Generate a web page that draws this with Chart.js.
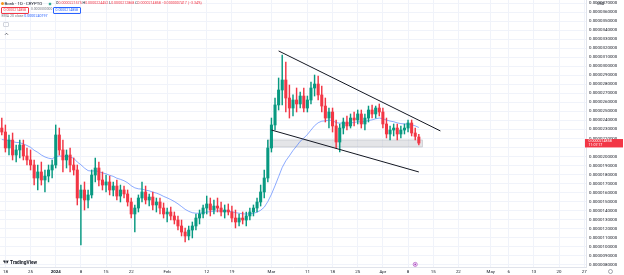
<!DOCTYPE html>
<html>
<head>
<meta charset="utf-8">
<title>Bonk 1D</title>
<script src="https://cdn.jsdelivr.net/npm/chart.js@4.4.1/dist/chart.umd.min.js"></script>
<style>
  html, body { margin: 0; padding: 0; background: #fff; }
  #wrap { position: relative; width: 624px; height: 275px; overflow: hidden; font-family: Roboto, "Noto Sans", sans-serif; color: #131722; }
  #chart { position: absolute; left: 0; top: 0; }
  .ov { position: absolute; white-space: nowrap; line-height: 1; }
  .coin { left: 0.5px; top: 1.8px; width: 3.4px; height: 3.4px; border-radius: 50%; background: #f7931a; }
  .title { left: 4.6px; top: 1.5px; font-size: 4.3px; }
  .live { left: 49.3px; top: 2.5px; width: 2px; height: 2px; border-radius: 50%; background: #089981; box-shadow: 0 0 0 0.7px rgba(8,153,129,0.3); }
  .ohlc { left: 56px; top: 2px; font-size: 3.6px; color: #f23645; }
  .ohlc b { font-weight: normal; color: #131722; }
  .box { top: 7.4px; height: 4.4px; line-height: 4.4px; font-size: 3.5px; border-radius: 1px; padding: 0 1.5px; border: 0.5px solid; }
  .sell { left: 1px; color: #f23645; border-color: #f23645; }
  .spread { left: 31px; top: 8.3px; font-size: 3.3px; color: #787b86; }
  .buy { left: 53px; color: #2962ff; border-color: #2962ff; }
  .ema { left: 1.5px; top: 15.4px; font-size: 3.6px; color: #787b86; }
  .ema span { color: #2962ff; }
  .collapse { left: 3.3px; top: 21.7px; width: 6px; height: 5px; border: 0.5px solid #d1d4dc; border-radius: 1px; box-sizing: border-box; }
  .usd { left: 597px; top: 2.2px; font-size: 3.8px; }
  .logo { left: 3px; top: 260.4px; font-size: 4.8px; font-weight: bold; }
</style>
</head>
<body>
<div id="wrap">
  <canvas id="chart" width="624" height="275"></canvas>
  <div class="ov coin"></div>
  <div class="ov title">Bonk · 1D · CRYPTO</div>
  <div class="ov live"></div>
  <div class="ov ohlc" id="ohlc"></div>
  <div class="ov box sell" id="sell"></div>
  <div class="ov spread">0.0000000000</div>
  <div class="ov box buy" id="buy"></div>
  <div class="ov ema">EMA 20 close <span>0.0000240197</span></div>
  <div class="ov collapse"><svg width="5" height="4" viewBox="0 0 10 8"><polyline points="2,5.5 5,2.5 8,5.5" fill="none" stroke="#131722" stroke-width="1.2"/></svg></div>
  <div class="ov usd">USD</div>
  <div class="ov logo"><svg width="6" height="4.2" viewBox="0 0 36 28" style="vertical-align:-0.4px"><path d="M14 22H7V11H0V4h14v18zM28 22h-8l7.5-18h8L28 22z" fill="#131722"/><circle cx="20" cy="8" r="4" fill="#131722"/></svg> TradingView</div>
</div>
<script>
// prices are in millionths of a USD (1 = 0.000001)
const firstDay = "2023-12-17";
const axisDays = 163; // visible calendar, Dec 17 .. May 27

const open = [
  23.15, 22.71, 20.94, 21.82, 20.16, 20.72, 21.27, 20.05, 19.61, 19.05,
  17.61, 18.28, 17.39, 17.83, 18.50, 19.05, 22.38, 20.72, 19.61, 20.16,
  19.05, 18.50, 15.39, 16.28, 15.17, 15.73, 17.94, 18.72, 17.39, 16.83,
  17.17, 16.28, 16.72, 15.61, 16.28, 15.84, 14.95, 13.62, 14.28, 15.39,
  16.06, 15.17, 15.50, 14.62, 14.95, 14.28, 13.62, 13.84, 13.40, 12.95,
  12.29, 11.62, 11.18, 11.84, 12.29, 13.17, 13.62, 14.28, 14.73, 14.06,
  14.50, 14.28, 13.84, 14.06, 13.84, 13.17, 12.73, 13.17, 12.95, 13.40,
  13.84, 14.28, 14.95, 16.06, 17.61, 20.94, 23.49, 25.71, 27.37, 28.48,
  26.48, 25.37, 26.26, 25.82, 26.70, 25.37, 26.26, 27.59, 28.03, 26.82,
  25.59, 24.26, 24.93, 23.38, 21.60, 23.15, 23.82, 23.38, 24.26, 24.04,
  24.71, 23.60, 24.26, 25.15, 24.71, 25.37, 24.93, 23.60, 22.49, 22.93,
  23.15, 22.49, 22.93, 23.15, 23.71, 22.60, 22.1575
];
const high = [
  24.26, 23.49, 22.38, 22.60, 21.27, 21.82, 21.82, 20.94, 20.72, 19.61,
  19.05, 19.38, 18.50, 19.05, 19.61, 23.49, 23.15, 21.82, 20.72, 20.94,
  19.83, 19.05, 16.83, 17.17, 16.28, 18.50, 19.83, 19.38, 18.28, 17.94,
  17.83, 17.17, 17.39, 16.83, 16.72, 16.28, 15.39, 14.62, 15.73, 17.17,
  16.72, 15.84, 16.06, 15.39, 15.39, 14.84, 14.28, 14.39, 13.84, 13.40,
  12.95, 12.07, 12.29, 12.73, 13.62, 14.06, 14.62, 15.61, 15.39, 15.17,
  15.39, 14.95, 14.62, 14.73, 14.50, 14.06, 13.62, 13.84, 13.84, 14.28,
  14.62, 15.39, 16.83, 18.50, 21.82, 24.26, 26.48, 28.70, 31.25, 30.47,
  27.92, 26.82, 27.59, 27.15, 27.59, 26.70, 28.26, 29.03, 28.92, 27.81,
  26.48, 25.37, 25.37, 24.04, 23.60, 24.26, 24.49, 24.71, 24.93, 25.15,
  25.15, 24.71, 25.59, 25.71, 25.59, 25.82, 25.37, 24.26, 23.38, 23.60,
  23.60, 23.38, 23.60, 24.04, 24.04, 23.15, 22.4452
];
const low = [
  22.38, 20.49, 20.16, 19.61, 19.38, 19.83, 19.61, 19.05, 18.50, 16.83,
  16.28, 16.83, 16.06, 17.17, 17.61, 18.72, 20.16, 18.28, 18.72, 18.28,
  17.94, 14.62, 10.18, 14.06, 14.28, 15.39, 17.17, 16.72, 16.28, 16.06,
  15.73, 15.61, 15.17, 14.95, 15.39, 14.50, 13.17, 11.62, 13.84, 14.95,
  14.73, 14.50, 14.06, 13.84, 13.62, 13.17, 12.73, 12.95, 12.51, 11.84,
  11.18, 10.51, 10.73, 10.96, 11.84, 12.51, 13.17, 13.62, 13.40, 13.62,
  13.84, 13.40, 13.17, 13.51, 12.73, 12.07, 12.29, 12.51, 12.29, 12.95,
  13.40, 13.84, 14.50, 15.39, 17.17, 20.49, 22.93, 25.15, 25.71, 24.93,
  24.26, 24.49, 24.93, 25.37, 24.93, 24.93, 25.82, 26.70, 26.26, 24.93,
  23.82, 23.15, 22.71, 20.94, 20.49, 22.49, 22.93, 23.15, 23.38, 23.60,
  23.15, 22.93, 23.82, 24.26, 24.26, 24.49, 23.15, 22.05, 21.82, 22.27,
  21.82, 22.05, 22.49, 22.71, 22.27, 21.82, 21.2868
];
const close = [
  22.71, 20.94, 21.82, 20.16, 20.72, 21.27, 20.05, 19.61, 19.05, 17.61,
  18.28, 17.39, 17.83, 18.50, 19.05, 22.38, 20.72, 19.61, 20.16, 19.05,
  18.50, 15.39, 16.28, 15.17, 15.73, 17.94, 18.72, 17.39, 16.83, 17.17,
  16.28, 16.72, 15.61, 16.28, 15.84, 14.95, 13.62, 14.28, 15.39, 16.06,
  15.17, 15.50, 14.62, 14.95, 14.28, 13.62, 13.84, 13.40, 12.95, 12.29,
  11.62, 11.18, 11.84, 12.29, 13.17, 13.62, 14.28, 14.73, 14.06, 14.50,
  14.28, 13.84, 14.06, 13.84, 13.17, 12.73, 13.17, 12.95, 13.40, 13.84,
  14.28, 14.95, 16.06, 17.61, 20.94, 23.49, 25.71, 27.37, 28.48, 26.48,
  25.37, 26.26, 25.82, 26.70, 25.37, 26.26, 27.59, 28.03, 26.82, 25.59,
  24.26, 24.93, 23.38, 21.60, 23.15, 23.82, 23.38, 24.26, 24.04, 24.71,
  23.60, 24.26, 25.15, 24.71, 25.37, 24.93, 23.60, 22.49, 22.93, 23.15,
  22.49, 22.93, 23.15, 23.71, 22.60, 22.2275, 21.4858
];

// EMA 20 of close; value at the day before firstDay
const emaLength = 20;
const emaSeed = 21.8;

// x axis tick labels (TradingView weekly / month marks)
const xTickDates = ["2023-12-18", "2023-12-25", "2024-01-01", "2024-01-08", "2024-01-15", "2024-01-22",
  "2024-02-01", "2024-02-12", "2024-02-19", "2024-03-01", "2024-03-11", "2024-03-18", "2024-03-25",
  "2024-04-01", "2024-04-08", "2024-04-15", "2024-04-22", "2024-05-01", "2024-05-06", "2024-05-13",
  "2024-05-20", "2024-05-27"];
const xTickLabels = ["18", "25", "2024", "8", "15", "22", "Feb", "12", "19", "Mar", "11", "18", "25",
  "Apr", "8", "15", "22", "May", "6", "13", "20", "27"];

// price axis range and step
const priceMin = 7.74;
const priceMax = 37.35;
const priceStep = 1;

// drawings: falling wedge lines and support zone
const upperTrendDays = ["2024-03-03", "2024-04-17"];
const upperTrendPrices = [31.70, 22.83];
const lowerTrendDays = ["2024-03-01", "2024-04-11"];
const lowerTrendPrices = [22.93, 18.28];
const zoneDays = ["2024-02-29", "2024-04-12"];
const zonePrices = [21.05, 21.83];
const eventDay = "2024-04-10";

const UP = "#089981";
const DOWN = "#f23645";

const fmt = (v) => (v / 1e6).toFixed(10);

const startMs = Date.parse(firstDay + "T00:00:00Z");
const days = Array.from({ length: axisDays }, (_, i) =>
  new Date(startMs + i * 86400000).toISOString().slice(0, 10));
const tickMap = {};
xTickDates.forEach((d, i) => { tickMap[d] = xTickLabels[i]; });

const colors = close.map((c, i) => (c >= open[i] ? UP : DOWN));
const k = 2 / (emaLength + 1);
let prev = emaSeed;
const ema = close.map((c) => (prev = prev + k * (c - prev)));

// header
const n = close.length;
const last = n - 1;
const chg = close[last] - close[last - 1];
const pct = (chg / close[last - 1]) * 100;
document.getElementById("ohlc").innerHTML =
  "<b>O</b>" + fmt(open[last]) + " <b>H</b>" + fmt(high[last]) + " <b>L</b>" + fmt(low[last]) +
  " <b>C</b>" + fmt(close[last]) + " " + (chg < 0 ? "−" : "+") + fmt(Math.abs(chg)) +
  " (" + (pct < 0 ? "−" : "+") + Math.abs(pct).toFixed(2) + "%)";
document.getElementById("sell").textContent = fmt(close[last]);
document.getElementById("buy").textContent = fmt(close[last]);

const overlay = {
  id: "overlay",
  beforeDatasetsDraw(chart) {
    const { ctx, scales: { x, y } } = chart;
    const x0 = x.getPixelForValue(days.indexOf(zoneDays[0]));
    const x1 = x.getPixelForValue(days.indexOf(zoneDays[1]));
    const y0 = y.getPixelForValue(zonePrices[1]);
    const y1 = y.getPixelForValue(zonePrices[0]);
    ctx.save();
    ctx.fillStyle = "rgba(178,181,190,0.35)";
    ctx.strokeStyle = "rgba(150,153,162,0.6)";
    ctx.lineWidth = 0.6;
    ctx.fillRect(x0, y0, x1 - x0, y1 - y0);
    ctx.strokeRect(x0, y0, x1 - x0, y1 - y0);
    ctx.restore();
  },
  afterDraw(chart) {
    const { ctx, chartArea, scales: { x, y } } = chart;
    ctx.save();
    // last price label
    const py = y.getPixelForValue(close[last]);
    ctx.fillStyle = DOWN;
    ctx.fillRect(chartArea.right - 1, py - 4, 624 - chartArea.right, 8.4);
    ctx.fillStyle = "#fff";
    ctx.font = "3.6px Roboto";
    ctx.textBaseline = "middle";
    ctx.fillText(fmt(close[last]), chartArea.right + 2.5, py - 1.6);
    ctx.fillText("11:07:17", chartArea.right + 2.5, py + 2.1);
    // event marker
    const ex = x.getPixelForValue(days.indexOf(eventDay));
    const ey = chartArea.bottom - 2.6;
    ctx.beginPath();
    ctx.arc(ex, ey, 2.1, 0, Math.PI * 2);
    ctx.fillStyle = "#f3e5fb";
    ctx.fill();
    ctx.strokeStyle = "#ab47bc";
    ctx.lineWidth = 0.6;
    ctx.stroke();
    ctx.beginPath();
    ctx.arc(ex, ey, 0.9, 0, Math.PI * 2);
    ctx.fillStyle = "#ab47bc";
    ctx.fill();
    // settings gear
    ctx.beginPath();
    ctx.arc(610.5, 271.5, 2, 0, Math.PI * 2);
    ctx.strokeStyle = "#6a6d78";
    ctx.lineWidth = 0.6;
    ctx.stroke();
    ctx.restore();
  }
};

new Chart(document.getElementById("chart"), {
  type: "bar",
  data: {
    labels: days,
    datasets: [
      {
        type: "line",
        label: "upper",
        data: upperTrendDays.map((d, i) => ({ x: d, y: upperTrendPrices[i] })),
        borderColor: "#131722",
        borderWidth: 1,
        pointRadius: 0,
        order: 0
      },
      {
        type: "line",
        label: "lower",
        data: lowerTrendDays.map((d, i) => ({ x: d, y: lowerTrendPrices[i] })),
        borderColor: "#131722",
        borderWidth: 1,
        pointRadius: 0,
        order: 0
      },
      {
        label: "bodies",
        data: open.map((o, i) => [Math.min(o, close[i]), Math.max(o, close[i])]),
        backgroundColor: colors,
        barThickness: 2.4,
        minBarLength: 0.6,
        grouped: false,
        order: 1
      },
      {
        label: "wicks",
        data: low.map((l, i) => [l, high[i]]),
        backgroundColor: colors,
        barThickness: 0.8,
        grouped: false,
        order: 2
      },
      {
        type: "line",
        label: "EMA 20",
        data: ema,
        borderColor: "rgba(41,98,255,0.6)",
        borderWidth: 0.9,
        pointRadius: 0,
        tension: 0,
        order: 3
      }
    ]
  },
  options: {
    responsive: false,
    animation: false,
    layout: { padding: 0 },
    plugins: { legend: { display: false }, tooltip: { enabled: false } },
    scales: {
      x: {
        offset: true,
        grid: {
          offset: false,
          drawTicks: false,
          color: (ctx) => (ctx.tick && tickMap[days[ctx.index]] ? "#f0f3fa" : "rgba(0,0,0,0)")
        },
        border: { color: "#e0e3eb" },
        ticks: {
          autoSkip: false,
          maxRotation: 0,
          minRotation: 0,
          padding: 1.8,
          color: "#131722",
          font: (ctx) => ({ family: "Roboto", size: 4.4, weight: tickMap[days[ctx.index]] === "2024" ? "bold" : "normal" }),
          callback: (v, i) => tickMap[days[i]] || ""
        },
        afterFit(scale) {
          scale.height = 8;
          scale.paddingLeft = 0;
          scale.paddingRight = 0;
        }
      },
      y: {
        position: "right",
        min: priceMin,
        max: priceMax,
        grid: { color: "#f0f3fa", drawTicks: false },
        border: { color: "#e0e3eb" },
        ticks: {
          stepSize: priceStep,
          includeBounds: false,
          padding: 3,
          font: { family: "Roboto", size: 4.4 },
          color: (ctx) => (ctx.tick && Math.abs(ctx.tick.value - close[last]) < 0.5 ? "rgba(0,0,0,0)" : "#131722"),
          callback: (v) => fmt(v)
        },
        afterFit(scale) {
          scale.width = 38;
          scale.paddingTop = 0;
          scale.paddingBottom = 0;
        }
      }
    }
  },
  plugins: [overlay]
});
</script>
</body>
</html>
